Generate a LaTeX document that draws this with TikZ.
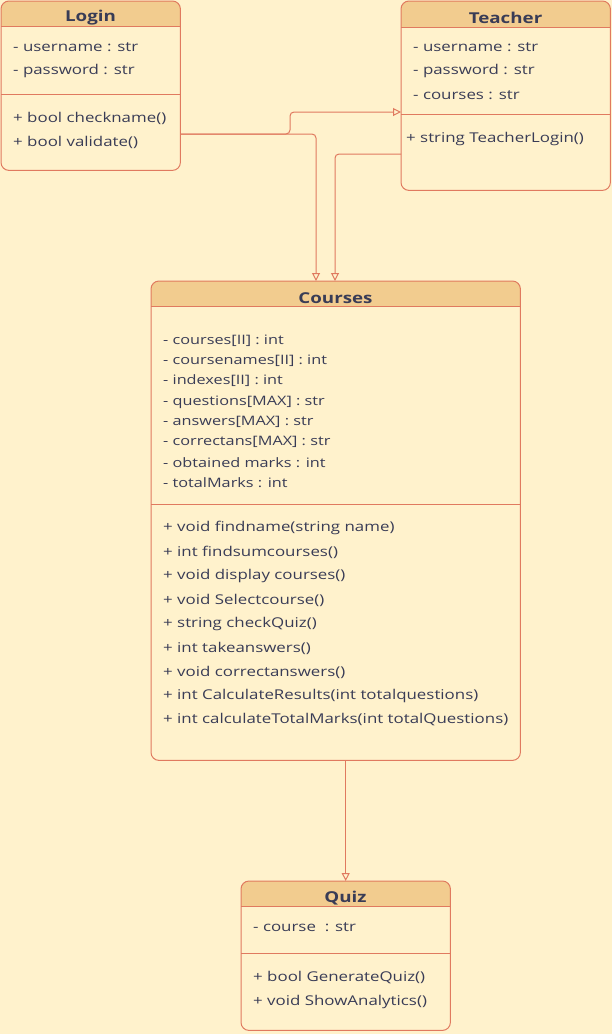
\documentclass[tikz,border=0pt]{standalone}
\usepackage{fontspec}
\setmainfont{Open Sans}[FakeStretch=1.25]
\usetikzlibrary{arrows.meta,calc}
\definecolor{bgc}{HTML}{FFF2CC}
\definecolor{hdrc}{HTML}{F2CC8F}
\definecolor{strokec}{HTML}{E07A5F}
\definecolor{textc}{HTML}{393C56}
\tikzset{
  framebox/.style={rectangle, rounded corners=8pt, fill=bgc, inner sep=0pt, anchor=north west},
  outline/.style={draw=strokec, line width=1pt, rounded corners=8pt},
  sepline/.style={draw=strokec, line width=1pt},
  title/.style={text=textc, font=\fontsize{15}{18}\selectfont\bfseries, inner sep=0pt, anchor=center},
  member/.style={text=textc, font=\fontsize{13.5}{16}\selectfont, inner sep=0pt, anchor=west, yshift=-1pt},
  smallmember/.style={text=textc, font=\fontsize{13}{15}\selectfont, inner sep=0pt, anchor=west, yshift=-1pt},
  conn/.style={draw=strokec, line width=1pt, rounded corners=4pt, -{Triangle[open,length=8pt,width=8pt]}}
}
% #1 name, #2 header height
\newcommand{\umlhead}[2]{%
  \fill[hdrc, rounded corners=8pt] (#1.north west) rectangle ($(#1.north east)+(0,#2)$);
  \fill[hdrc] ($(#1.north west)+(0,#2/2)$) rectangle ($(#1.north east)+(0,#2)$);
  \draw[sepline] ($(#1.north west)+(0,#2)$) -- ($(#1.north east)+(0,#2)$);
}
\begin{document}
\begin{tikzpicture}[x=1pt,y=-1pt]
\fill[bgc] (0,0) rectangle (612,1034);
\useasboundingbox (0,0) rectangle (612,1034);

% ---------- Login ----------
\node[framebox, minimum width=179pt, minimum height=169pt] (login) at (1,1) {};
\umlhead{login}{25}
\draw[sepline] ($(login.north west)+(0,93)$) -- ($(login.north east)+(0,93)$);
\draw[outline] (login.north west) rectangle (login.south east);
\node[title] (logintitle) at (90.5,18) {Login};
\node[member] (logina1) at (13,46) {- username : str};
\node[member] (logina2) at (13,70) {- password : str};
\node[member] (loginm1) at (13,117) {+ bool checkname()};
\node[member] (loginm2) at (13,141) {+ bool validate()};

% ---------- Teacher ----------
\node[framebox, minimum width=209pt, minimum height=189pt] (teacher) at (401,1) {};
\umlhead{teacher}{26}
\draw[sepline] ($(teacher.north west)+(0,113)$) -- ($(teacher.north east)+(0,113)$);
\draw[outline] (teacher.north west) rectangle (teacher.south east);
\node[title] (teachertitle) at (505.5,18) {Teacher};
\node[member] (teachera1) at (413,46) {- username : str};
\node[member] (teachera2) at (413,70) {- password : str};
\node[member] (teachera3) at (413,94) {- courses : str};
\node[member] (teacherm1) at (406,138) {+ string TeacherLogin()};

% ---------- Courses ----------
\node[framebox, minimum width=369pt, minimum height=479pt] (courses) at (151,281) {};
\umlhead{courses}{25}
\draw[sepline] ($(courses.north west)+(0,223)$) -- ($(courses.north east)+(0,223)$);
\draw[outline] (courses.north west) rectangle (courses.south east);
\node[title] (coursestitle) at (335.5,298) {Courses};
\node[smallmember] (coursesa1) at (163,340) {- courses[II] : int};
\node[smallmember] (coursesa2) at (163,360) {- coursenames[II] : int};
\node[smallmember] (coursesa3) at (163,380) {- indexes[II] : int};
\node[smallmember] (coursesa4) at (163,401) {- questions[MAX] : str};
\node[smallmember] (coursesa5) at (163,421) {- answers[MAX] : str};
\node[smallmember] (coursesa6) at (163,441) {- correctans[MAX] : str};
\node[smallmember] (coursesa7) at (163,462) {- obtained marks : int};
\node[smallmember] (coursesa8) at (163,482) {- totalMarks : int};
\node[member] (coursesm1) at (163,527) {+ void findname(string name)};
\node[member] (coursesm2) at (163,551) {+ int findsumcourses()};
\node[member] (coursesm3) at (163,575) {+ void display courses()};
\node[member] (coursesm4) at (163,599) {+ void Selectcourse()};
\node[member] (coursesm5) at (163,623) {+ string checkQuiz()};
\node[member] (coursesm6) at (163,647) {+ int takeanswers()};
\node[member] (coursesm7) at (163,671) {+ void correctanswers()};
\node[member] (coursesm8) at (163,695) {+ int CalculateResults(int totalquestions)};
\node[member] (coursesm9) at (163,719) {+ int calculateTotalMarks(int totalQuestions)};

% ---------- Quiz ----------
\node[framebox, minimum width=209pt, minimum height=149pt] (quiz) at (241,881) {};
\umlhead{quiz}{25}
\draw[sepline] ($(quiz.north west)+(0,72)$) -- ($(quiz.north east)+(0,72)$);
\draw[outline] (quiz.north west) rectangle (quiz.south east);
\node[title] (quiztitle) at (345.5,898) {Quiz};
\node[member] (quiza1) at (253,926) {- course\ \ : str};
\node[member] (quizm1) at (253,977) {+ bool GenerateQuiz()};
\node[member] (quizm2) at (253,1001) {+ void ShowAnalytics()};

% ---------- Connectors ----------
\draw[conn] ($(login.north east)+(0,133)$) -| ($(teacher.north west)+(-111,111)$) -- ($(teacher.north west)+(0,111)$);
\draw[conn] ($(login.north east)+(0,133)$) -| ($(courses.north west)+(165,0)$);
\draw[conn] ($(teacher.north west)+(0,153)$) -| ($(courses.north west)+(184,0)$);
\draw[conn] (quiz.north |- courses.south) -- (quiz.north);
\end{tikzpicture}
\end{document}
